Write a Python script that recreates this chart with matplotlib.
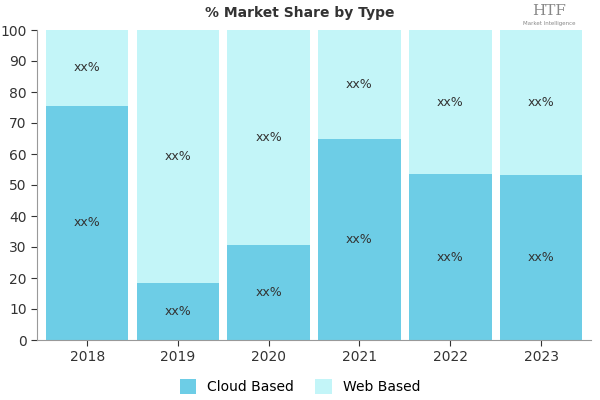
import matplotlib.pyplot as plt
import numpy as np

years = ["2018", "2019", "2020", "2021", "2022", "2023"]
cloud = [75.5, 18.5, 30.7, 65.0, 53.5, 53.2]
web = [24.5, 81.5, 69.3, 35.0, 46.5, 46.8]
labels = ["xx%"] * 6

fig = plt.figure(figsize=(6, 4), dpi=100)
ax = fig.add_axes([0.062, 0.15, 0.923, 0.775])
x = np.arange(len(years))
b1 = ax.bar(x, cloud, width=0.91, color="#6dcde6", label="Cloud Based")
b2 = ax.bar(x, web, bottom=cloud, width=0.91, color="#c3f5f8", label="Web Based")
for i in range(len(years)):
    ax.text(x[i], cloud[i] / 2, labels[i], ha="center", va="center", fontsize=9, color="#333333")
    ax.text(x[i], cloud[i] + web[i] / 2, labels[i], ha="center", va="center", fontsize=9, color="#333333")
ax.set_xlim(-0.55, 5.55)
ax.set_ylim(0, 100)
ax.set_yticks(range(0, 101, 10))
ax.set_xticks(x)
ax.set_xticklabels(years)
ax.tick_params(labelsize=10, colors="#333333", length=4)
for s in ["top", "right"]:
    ax.spines[s].set_visible(False)
ax.spines["left"].set_color("#999999")
ax.spines["bottom"].set_color("#999999")
fig.text(0.5, 0.968, "% Market Share by Type", ha="center", va="center", fontsize=10, fontweight="bold", color="#333333")
fig.text(0.915, 0.972, "HTF", ha="center", va="center", fontsize=11, color="#888888", family="DejaVu Serif")
fig.text(0.915, 0.94, "Market Intelligence", ha="center", va="center", fontsize=4, color="#888888")
fig.legend(handles=[b1, b2], loc="center", bbox_to_anchor=(0.5, 0.033), ncol=2, frameon=False, fontsize=10, handlelength=1.2, handleheight=1.2, columnspacing=1.5)
fig.savefig("out.png")
